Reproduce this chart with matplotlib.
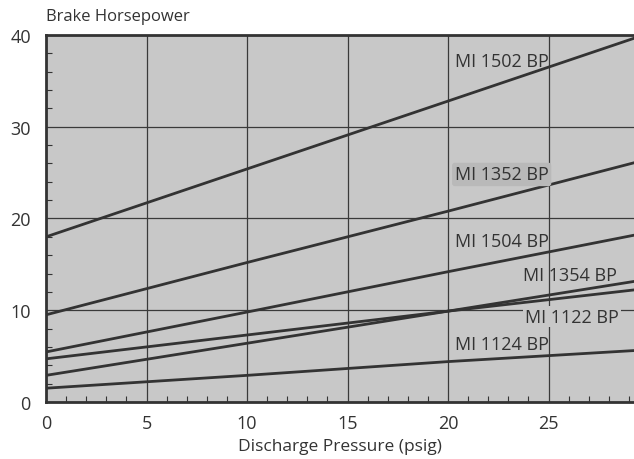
import matplotlib.pyplot as plt
from matplotlib.ticker import MultipleLocator

plt.rcParams['font.family'] = ['Open Sans', 'DejaVu Sans']

pressure = [0, 10, 20, 30]
models = ['MI 1502 BP', 'MI 1352 BP', 'MI 1504 BP', 'MI 1354 BP', 'MI 1122 BP', 'MI 1124 BP']
bhp = {
    'MI 1502 BP': [18.0, 25.4, 32.8, 40.2],
    'MI 1352 BP': [9.5, 15.2, 20.8, 26.5],
    'MI 1504 BP': [5.45, 9.8, 14.2, 18.5],
    'MI 1354 BP': [2.9, 6.4, 9.9, 13.4],
    'MI 1122 BP': [4.7, 7.3, 9.9, 12.4],
    'MI 1124 BP': [1.5, 2.9, 4.4, 5.7],
}
# label anchor (right edge x, centre y) in data units
label_pos = {
    'MI 1502 BP': (25.0, 37.2),
    'MI 1352 BP': (25.0, 24.8),
    'MI 1504 BP': (25.0, 17.5),
    'MI 1354 BP': (28.4, 13.8),
    'MI 1122 BP': (28.5, 9.3),
    'MI 1124 BP': (25.0, 6.3),
}

bg = '#c8c8c8'
dark = '#333333'

fig = plt.figure(figsize=(6.34, 4.6), dpi=100)
ax = fig.add_axes([0.0726, 0.124, 0.9274, 0.7977])
ax.set_facecolor(bg)

for m in models:
    ax.plot(pressure, bhp[m], color=dark, linewidth=2.0, zorder=3)

for m in models:
    x, y = label_pos[m]
    box = None
    if m == 'MI 1352 BP':
        box = dict(boxstyle='round,pad=0.15', facecolor='#b9b9b9', edgecolor='none')
    elif m == 'MI 1122 BP':
        box = dict(boxstyle='square,pad=0.1', facecolor=bg, edgecolor='none')
    ax.text(x, y, m, ha='right', va='center', fontsize=13, color=dark, bbox=box, zorder=4)

ax.set_xlim(0, 29.25)
ax.set_ylim(0, 40)
ax.xaxis.set_major_locator(MultipleLocator(5))
ax.xaxis.set_minor_locator(MultipleLocator(1))
ax.yaxis.set_major_locator(MultipleLocator(10))
ax.yaxis.set_minor_locator(MultipleLocator(2))

ax.grid(True, which='major', color='#3a3a3a', linewidth=0.9, zorder=1)
ax.set_axisbelow(True)
ax.tick_params(which='major', length=0, labelsize=13, labelcolor=dark)
ax.tick_params(axis='y', which='major', pad=11)
ax.tick_params(axis='x', which='major', pad=9)
ax.tick_params(which='minor', direction='in', length=4, width=0.8, color=dark)
for lbl in ax.get_yticklabels():
    lbl.set_va('center_baseline')

for side in ['top', 'left', 'bottom']:
    ax.spines[side].set_linewidth(2)
    ax.spines[side].set_color(dark)
ax.spines['right'].set_visible(False)

ax.set_xlabel('Discharge Pressure (psig)', fontsize=12.5, color=dark, labelpad=4)
fig.text(46 / 634, 1 - 17 / 460, 'Brake Horsepower', fontsize=12, color=dark, ha='left', va='center')

fig.savefig('out.png', dpi=100)
